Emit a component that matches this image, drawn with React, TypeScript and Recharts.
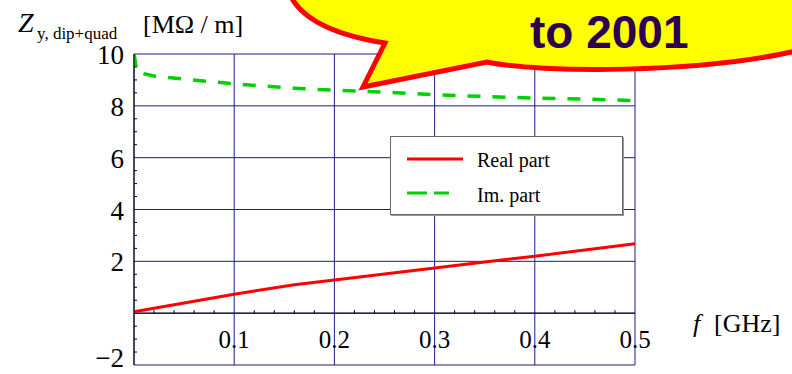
import { CartesianGrid, Legend, Line, LineChart, ReferenceLine, XAxis, YAxis } from "recharts";

// frequency in GHz, impedance in MOhm/m
const freq = [0, 0.003, 0.02, 0.05, 0.1, 0.16, 0.2, 0.25, 0.3, 0.35, 0.4, 0.45, 0.5];
const realPart = [0.05, 0.07, 0.19, 0.39, 0.73, 1.1, 1.28, 1.51, 1.74, 1.97, 2.2, 2.44, 2.68];
const imPart = [10, 9.3, 9.15, 9.03, 8.85, 8.68, 8.6, 8.53, 8.43, 8.36, 8.3, 8.26, 8.2];

const xMinor = [
  0.02, 0.04, 0.06, 0.08, 0.12, 0.14, 0.16, 0.18, 0.22, 0.24, 0.26, 0.28,
  0.32, 0.34, 0.36, 0.38, 0.42, 0.44, 0.46, 0.48,
];
const xGrid = [0, 0.1, 0.2, 0.3, 0.4, 0.5];
const xLabels = ["", "0.1", "0.2", "0.3", "0.4", "0.5"];

const yMinor = [
  -1.5, -1, -0.5, 0.5, 1, 1.5, 2.5, 3, 3.5, 4.5, 5, 5.5, 6.5, 7, 7.5, 8.5, 9, 9.5,
];
const yGrid = [-2, 0, 2, 4, 6, 8, 10];
const yLabels = ["\u22122", "", "2", "4", "6", "8", "10"];

const W = 792;
const H = 374;
// two 1px axes on each of left and bottom
const M = { top: 54, right: 157, bottom: 7, left: 132 };
const Y_MIN = -2;
const Y_MAX = 10;
const PLOT_H = H - M.top - M.bottom - 2;
const ZERO_UP = (PLOT_H * (0 - Y_MIN)) / (Y_MAX - Y_MIN);
const SERIF = "'Liberation Serif', 'Times New Roman', serif";

const data = freq.map((f, i) => ({ f, re: realPart[i], im: imPart[i] }));

function XLabel(props: any) {
  const { x, y, payload } = props;
  const label = xLabels[xGrid.indexOf(payload.value)];
  if (!label) return <g />;
  return (
    <text x={x} y={y - ZERO_UP + 35} textAnchor="middle" fontFamily={SERIF} fontSize={25} fill="#000">
      {label}
    </text>
  );
}

function XMinorTick(props: any) {
  const { x, y } = props;
  // second bottom axis sits 1px below the first
  const zy = y - 1 - ZERO_UP;
  return <line x1={x} x2={x} y1={zy} y2={zy - 3} stroke="#000" />;
}

function YLabel(props: any) {
  const { x, y, payload } = props;
  const label = yLabels[yGrid.indexOf(payload.value)];
  if (!label) return <g />;
  return (
    <text x={x - 10} y={Math.min(y + 10, H - 7)} textAnchor="end" fontFamily={SERIF} fontSize={27} fill="#000">
      {label}
    </text>
  );
}

function YMinorTick(props: any) {
  const { x, y } = props;
  // second left axis sits 1px left of the first
  return <line x1={x + 1} x2={x + 4} y1={y} y2={y} stroke="#000" />;
}

function LegendBox() {
  return (
    <div
      style={{
        width: 231,
        height: 77,
        background: "#fff",
        border: "1px solid #666",
        boxShadow: "1px 1px 0 #999",
        position: "relative",
      }}
    >
      <svg width={231} height={77} style={{ position: "absolute", left: 0, top: 0 }}>
        <line x1={16} x2={72} y1={22} y2={22} stroke="#ff0000" strokeWidth={3} />
        <line x1={16} x2={58} y1={56} y2={56} stroke="#00d000" strokeWidth={3} strokeDasharray="20 7" />
        <text x={86} y={30} fontFamily={SERIF} fontSize={20}>Real part</text>
        <text x={86} y={65} fontFamily={SERIF} fontSize={20}>Im. part</text>
      </svg>
    </div>
  );
}

const axisCommon = {
  type: "number" as const,
  interval: 0 as const,
  axisLine: false,
  tickLine: false,
  tickSize: 0,
  tickMargin: 0,
  allowDataOverflow: true,
};

export default function App() {
  return (
    <div style={{ position: "absolute", left: 0, top: 0, width: W, height: H, background: "#fff" }}>
      <LineChart width={W} height={H} data={data} margin={M}>
        <CartesianGrid stroke="#1c1c86" />
        <XAxis {...axisCommon} dataKey="f" domain={[0, 0.5]} ticks={xGrid} height={1} tick={<XLabel />} />
        <XAxis {...axisCommon} xAxisId="minor" dataKey="f" domain={[0, 0.5]} ticks={xMinor} height={1} tick={<XMinorTick />} />
        <YAxis {...axisCommon} domain={[Y_MIN, Y_MAX]} ticks={yGrid} width={1} axisLine={{ stroke: "#000" }} tick={<YLabel />} />
        <YAxis {...axisCommon} yAxisId="minor" domain={[Y_MIN, Y_MAX]} ticks={yMinor} width={1} tick={<YMinorTick />} />
        <ReferenceLine y={0} stroke="#000" />
        <Legend
          layout="horizontal"
          verticalAlign="middle"
          align="center"
          content={() => <LegendBox />}
          wrapperStyle={{ left: 390, top: 136, width: 233, height: 79 }}
        />
        <Line
          type="linear"
          dataKey="re"
          stroke="#ff0000"
          strokeWidth={3}
          dot={false}
          isAnimationActive={false}
        />
        <Line
          type="linear"
          dataKey="im"
          stroke="#00d000"
          strokeWidth={3.5}
          strokeDasharray="13 12"
          dot={false}
          isAnimationActive={false}
        />
      </LineChart>
      <svg width={W} height={H} style={{ position: "absolute", left: 0, top: 0, pointerEvents: "none" }}>
        <text x={18} y={32} fontFamily={SERIF} fontSize={28} fontStyle="italic">Z</text>
        <text x={37} y={39} fontFamily={SERIF} fontSize={17}>y, dip+quad</text>
        <text x={143} y={33} fontFamily={SERIF} fontSize={26}>[M&#937; / m]</text>
        <text x={693} y={332} fontFamily={SERIF} fontSize={26} fontStyle="italic">f</text>
        <text x={714} y={332} fontFamily={SERIF} fontSize={26}>[GHz]</text>
        <path
          d="M 288 -10 Q 302 30 385 43 L 363 87 L 487 62 C 540 73, 700 74, 800 50 L 800 -10 Z"
          fill="#ffff00"
          stroke="#ff0000"
          strokeWidth={5}
          strokeLinejoin="miter"
        />
        <text
          x={530}
          y={48}
          fontFamily="'Liberation Sans', Arial, sans-serif"
          fontWeight="bold"
          fontSize={46}
          fill="#2d004f"
        >
          to 2001
        </text>
      </svg>
    </div>
  );
}
